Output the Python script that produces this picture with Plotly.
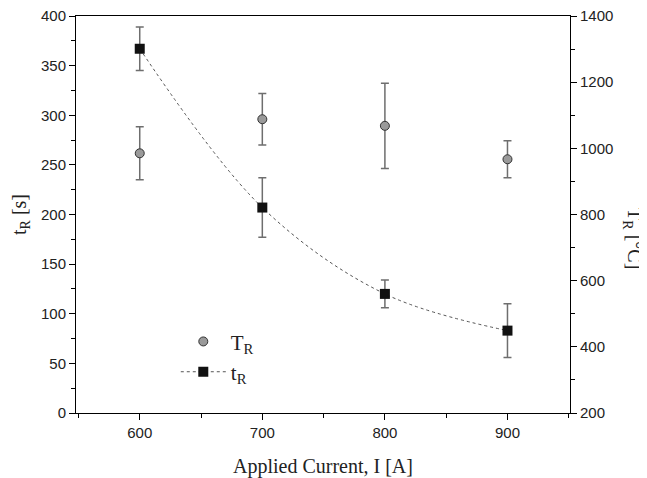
import plotly.graph_objects as go

current = [600, 700, 800, 900]
t_R = [367, 207, 120, 83]
t_R_err = [22, 30, 14, 27]
T_R = [985, 1088, 1068, 967]
T_R_err = [80, 78, 129, 56]

fig = go.Figure()

fig.add_trace(go.Scatter(
    x=current, y=T_R, yaxis="y2", mode="markers", name="T<sub>R</sub>",
    marker=dict(symbol="circle", size=9, color="#9a9a9a", line=dict(color="#333333", width=1)),
    error_y=dict(type="data", array=T_R_err, visible=True, color="#6e6e6e", thickness=1.5, width=4),
))

fig.add_trace(go.Scatter(
    x=current, y=t_R, yaxis="y", mode="lines+markers", name="t<sub>R</sub>",
    line=dict(color="#555555", width=1, dash="dot", shape="spline", smoothing=1.0),
    marker=dict(symbol="square", size=10, color="#111111"),
    error_y=dict(type="data", array=t_R_err, visible=True, color="#6e6e6e", thickness=1.5, width=4),
))

tickfont = dict(family="Liberation Sans, Arial, sans-serif", size=15, color="#222")
titlefont = dict(family="Liberation Serif, Times New Roman, serif", size=20, color="#222")

fig.update_layout(
    width=647, height=478,
    margin=dict(l=68, r=85, t=8, b=73),
    paper_bgcolor="white", plot_bgcolor="white",
    showlegend=True,
    legend=dict(x=0.202, y=0.231, xanchor="left", yanchor="top", itemwidth=45,
                bgcolor="rgba(0,0,0,0)",
                font=dict(family="Liberation Serif, Times New Roman, serif", size=21, color="#222")),
    xaxis=dict(range=[548, 951], tickvals=[600, 700, 800, 900], ticks="outside", ticklen=6,
               tickcolor="black", showline=True, linecolor="black", linewidth=1, mirror=True,
               showgrid=False, zeroline=False, tickfont=tickfont, automargin=False,
               ticklabeloverflow="allow",
               minor=dict(dtick=50, tick0=0, ticks="outside", ticklen=4, tickcolor="black", showgrid=False),
               title=dict(text="Applied Current, I [A]", font=titlefont, standoff=18)),
    yaxis=dict(range=[0, 400], dtick=50, ticks="outside", ticklen=6, tickcolor="black",
               showline=True, linecolor="black", linewidth=1, showgrid=False, zeroline=False,
               tickfont=tickfont, automargin=False, ticklabeloverflow="allow",
               minor=dict(dtick=25, ticks="outside", ticklen=4, tickcolor="black", showgrid=False),
               title=dict(text="t<sub>R</sub> [s]", font=titlefont, standoff=14)),
    yaxis2=dict(range=[200, 1400], dtick=200, overlaying="y", side="right", ticks="outside",
                ticklen=6, tickcolor="black", showline=True, linecolor="black", linewidth=1,
                showgrid=False, zeroline=False, tickfont=tickfont, automargin=False,
                ticklabeloverflow="allow",
                minor=dict(dtick=100, ticks="outside", ticklen=4, tickcolor="black", showgrid=False)),
    annotations=[dict(text="T<sub>R</sub> [°C]", textangle=90, xref="paper", yref="paper",
                      x=1.128, y=0.44, xanchor="center", yanchor="middle",
                      showarrow=False, font=titlefont)],
)

fig.write_html("out.html")
